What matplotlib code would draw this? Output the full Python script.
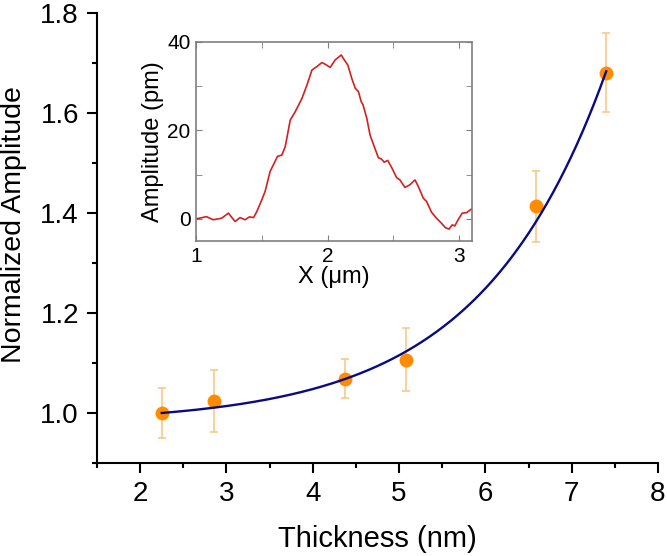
import numpy as np
import matplotlib
matplotlib.use("Agg")
import matplotlib.pyplot as plt
from matplotlib.ticker import MultipleLocator

plt.rcParams['font.family'] = ['Liberation Sans', 'DejaVu Sans']

# Main data
thickness = [2.25, 2.85, 4.375, 5.08, 6.585, 7.40]
norm_amp = [1.000, 1.023, 1.068, 1.106, 1.413, 1.681]
norm_err = [0.050, 0.062, 0.039, 0.063, 0.072, 0.079]

# Exponential fit parameters: y = y0 + A*exp(x/t)
fit_y0 = 0.9793
fit_A = 0.00443
fit_t = 1.46
fit_xmin, fit_xmax = 2.25, 7.40

# Inset profile
prof_x = [1.0, 1.08, 1.13, 1.195, 1.246, 1.297, 1.335, 1.373, 1.406, 1.437, 1.462,
          1.50, 1.525, 1.563, 1.619, 1.652, 1.678, 1.716, 1.754, 1.805, 1.843,
          1.881, 1.919, 1.957, 1.982, 2.02, 2.058, 2.104, 2.12, 2.154, 2.184,
          2.21, 2.235, 2.255, 2.27, 2.298, 2.323, 2.35, 2.386, 2.41, 2.43,
          2.457, 2.487, 2.525, 2.55, 2.588, 2.626, 2.664, 2.69, 2.727, 2.753,
          2.79, 2.828, 2.866, 2.896, 2.924, 2.947, 2.967, 2.992, 3.023, 3.056, 3.093]
prof_y = [0.0, 0.5, -0.2, 0.15, 1.3, -0.6, 0.3, -0.2, 0.45, 0.3, 1.65,
          4.3, 6.2, 10.7, 14.1, 14.4, 16.3, 22.3, 24.2, 27.2, 30.2,
          33.6, 34.4, 35.3, 34.9, 34.2, 35.9, 37.0, 36.2, 34.7, 31.7,
          29.5, 28.7, 26.5, 25.7, 22.7, 18.9, 16.7, 13.8, 13.5, 12.8,
          13.2, 11.6, 9.3, 8.8, 7.1, 7.7, 8.8, 7.3, 4.7, 3.9,
          1.5, 0.15, -1.0, -2.0, -2.3, -1.35, -1.6, -0.2, 1.3, 1.4, 2.2]

fig = plt.figure(figsize=(6.67, 5.56), dpi=100)
ax = fig.add_axes([0.1454, 0.1673, 0.8411, 0.8093])

ax.errorbar(thickness, norm_amp, yerr=norm_err, fmt='none', ecolor='#F7C88A',
            elinewidth=1.2, capsize=3, capthick=1.2, zorder=2)
xf = np.linspace(fit_xmin, fit_xmax, 300)
ax.plot(xf, fit_y0 + fit_A * np.exp(xf / fit_t), color='#0A0A85', lw=1.7, zorder=3)
ax.plot(thickness, norm_amp, 'o', color='#FF8C00', ms=10, mec='none', zorder=2.5)

ax.set_xlim(1.5, 8)
ax.set_ylim(0.9, 1.8)
ax.xaxis.set_major_locator(MultipleLocator(1))
ax.xaxis.set_minor_locator(MultipleLocator(0.5))
ax.yaxis.set_major_locator(MultipleLocator(0.2))
ax.yaxis.set_minor_locator(MultipleLocator(0.1))
ax.set_xticks([2, 3, 4, 5, 6, 7, 8])
ax.set_yticks([1.0, 1.2, 1.4, 1.6, 1.8])
ax.set_yticklabels(['1.0', '1.2', '1.4', '1.6', '1.8'])
for s in ['top', 'right']:
    ax.spines[s].set_visible(False)
for s in ['left', 'bottom']:
    ax.spines[s].set_linewidth(1.5)
ax.tick_params(which='major', direction='out', length=7, width=1.5, labelsize=20, pad=6)
ax.tick_params(which='minor', direction='out', length=3.5, width=1.5)
ax.set_xlabel('Thickness (nm)', fontsize=21, labelpad=13)
ax.set_ylabel('Normalized Amplitude', fontsize=20.5)
ax.yaxis.set_label_coords(-0.125, 0.53)

# Inset
ins = fig.add_axes([0.2939, 0.5665, 0.4142, 0.3585])
ins.plot(prof_x, prof_y, color='#D42020', lw=1.2)
ins.set_xlim(1, 3.1)
ins.set_ylim(-5, 40)
ins.xaxis.set_major_locator(MultipleLocator(1))
ins.xaxis.set_minor_locator(MultipleLocator(0.5))
ins.yaxis.set_major_locator(MultipleLocator(20))
ins.yaxis.set_minor_locator(MultipleLocator(10))
for s in ins.spines.values():
    s.set_color('#7F7F7F')
    s.set_linewidth(1.2)
ins.tick_params(which='both', direction='in', top=True, right=True, color='#7F7F7F',
                labelsize=15, pad=4)
ins.tick_params(which='major', length=4)
ins.tick_params(which='minor', length=4)
ins.set_xlabel('X (μm)', fontsize=17, labelpad=0)
ins.set_ylabel('Amplitude (pm)', fontsize=17, labelpad=2)

fig.savefig('out.png', dpi=100)
